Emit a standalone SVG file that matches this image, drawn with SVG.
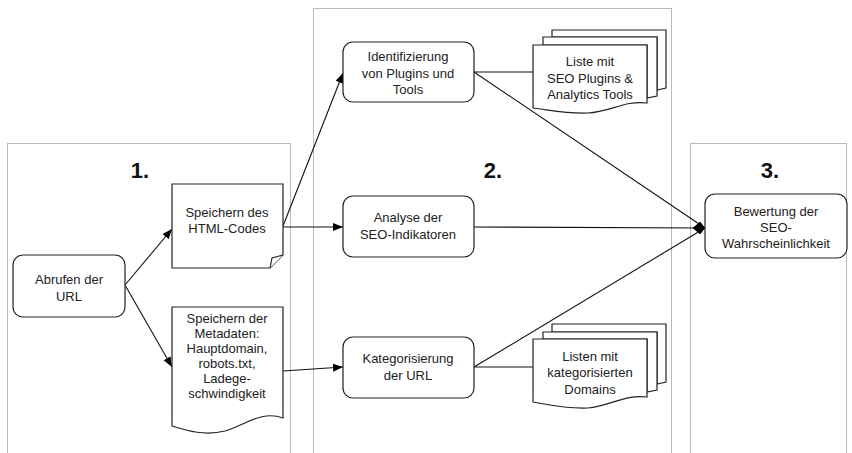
<svg xmlns="http://www.w3.org/2000/svg" width="852" height="453" viewBox="0 0 852 453">
<defs>
<marker id="arr" viewBox="0 0 10 10" refX="10" refY="5" markerWidth="10" markerHeight="10" markerUnits="userSpaceOnUse" orient="auto"><path d="M0,1 L10,5 L0,9 Z" fill="#000"/></marker>
<marker id="dia" viewBox="0 0 12 12" refX="12" refY="6" markerWidth="12" markerHeight="12" markerUnits="userSpaceOnUse" orient="0"><path d="M0,6 L7,0 L12,6 L7,12 Z" fill="#000"/></marker>
</defs>
<style>
.panel{fill:none;stroke:#777;stroke-width:1;stroke-dasharray:1,1}
.box{fill:#fff;stroke:#222;stroke-width:1.2}
.t{font-family:"Liberation Sans",Arial,sans-serif;font-size:13px;fill:#222;text-anchor:middle}
.h{font-family:"Liberation Sans",Arial,sans-serif;font-size:22px;font-weight:bold;fill:#111;text-anchor:middle}
.c{fill:none;stroke:#111;stroke-width:1.1}
</style>
<rect width="852" height="453" fill="#fff"/>
<g id="panels">
<rect class="panel" x="7.5" y="143.5" width="283" height="320"/>
<rect class="panel" x="313.5" y="8.5" width="358" height="460"/>
<rect class="panel" x="690.5" y="143.5" width="156" height="320"/>
<text class="h" x="140" y="178">1.</text>
<text class="h" x="493" y="178">2.</text>
<text class="h" x="770" y="178">3.</text>
</g>
<g id="connectors">
<line class="c" x1="125" y1="285" x2="172" y2="229" marker-end="url(#arr)"/>
<line class="c" x1="125" y1="285" x2="172" y2="367" marker-end="url(#arr)"/>
<line class="c" x1="283" y1="226" x2="343" y2="73" marker-end="url(#arr)"/>
<line class="c" x1="283" y1="227" x2="343" y2="227" marker-end="url(#arr)"/>
<line class="c" x1="283" y1="371" x2="343" y2="367" marker-end="url(#arr)"/>
<line class="c" x1="474" y1="72" x2="533" y2="72"/>
<line class="c" x1="474" y1="72" x2="705" y2="228" marker-end="url(#dia)"/>
<line class="c" x1="474" y1="227" x2="705" y2="228" marker-end="url(#dia)"/>
<line class="c" x1="474" y1="367" x2="705" y2="228" marker-end="url(#dia)"/>
<line class="c" x1="474" y1="367" x2="533" y2="367"/>
</g>
<g id="abrufen">
<rect class="box" x="13" y="255" width="112" height="62" rx="10"/>
<text class="t" x="69" y="284">Abrufen der</text>
<text class="t" x="69" y="301">URL</text>
</g>
<g id="html">
<path class="box" d="M172,184 H283 V255 L270,268 H172 Z"/>
<path class="box" d="M270,268 L272,258 L283,255"/>
<text class="t" x="227" y="217">Speichern des</text>
<text class="t" x="227" y="233">HTML-Codes</text>
</g>
<g id="metadaten">
<path class="box" d="M172,307 H283 V418 C262,410 245,425 225,431 C205,436 188,431 172,426 Z"/>
<text class="t" x="227" y="323">Speichern der</text>
<text class="t" x="227" y="338">Metadaten:</text>
<text class="t" x="227" y="353">Hauptdomain,</text>
<text class="t" x="227" y="368">robots.txt,</text>
<text class="t" x="227" y="383">Ladege-</text>
<text class="t" x="227" y="398">schwindigkeit</text>
</g>
<g id="identifizierung">
<rect class="box" x="343" y="42" width="131" height="60" rx="10"/>
<text class="t" x="408" y="61">Identifizierung</text>
<text class="t" x="408" y="78">von Plugins und</text>
<text class="t" x="408" y="94">Tools</text>
</g>
<g id="liste">
<path class="box" d="M552,30 H666 V88 L657,90 V37 H552 Z"/>
<path class="box" d="M543,37 H657 V96 L647,98 V45 H543 Z"/>
<path class="box" d="M533,45 H647 V103 C625,100 610,112 588,113 C568,114 550,110 533,108 Z"/>
<text class="t" x="590" y="66">Liste mit</text>
<text class="t" x="590" y="83">SEO Plugins &amp;</text>
<text class="t" x="590" y="99">Analytics Tools</text>
</g>
<g id="analyse">
<rect class="box" x="343" y="196" width="131" height="61" rx="10"/>
<text class="t" x="408" y="222">Analyse der</text>
<text class="t" x="408" y="239">SEO-Indikatoren</text>
</g>
<g id="kategorisierung">
<rect class="box" x="343" y="337" width="131" height="61" rx="10"/>
<text class="t" x="408" y="363">Kategorisierung</text>
<text class="t" x="408" y="380">der URL</text>
</g>
<g id="listen">
<path class="box" d="M552,324 H666 V382 L657,384 V332 H552 Z"/>
<path class="box" d="M543,332 H657 V390 L647,392 V339 H543 Z"/>
<path class="box" d="M533,339 H647 V397 C625,394 610,406 588,408 C568,409 550,405 533,402 Z"/>
<text class="t" x="590" y="361">Listen mit</text>
<text class="t" x="590" y="377">kategorisierten</text>
<text class="t" x="590" y="394">Domains</text>
</g>
<g id="bewertung">
<rect class="box" x="705" y="194" width="142" height="64" rx="10"/>
<text class="t" x="776" y="216">Bewertung der</text>
<text class="t" x="776" y="232">SEO-</text>
<text class="t" x="776" y="248">Wahrscheinlichkeit</text>
</g>
</svg>
